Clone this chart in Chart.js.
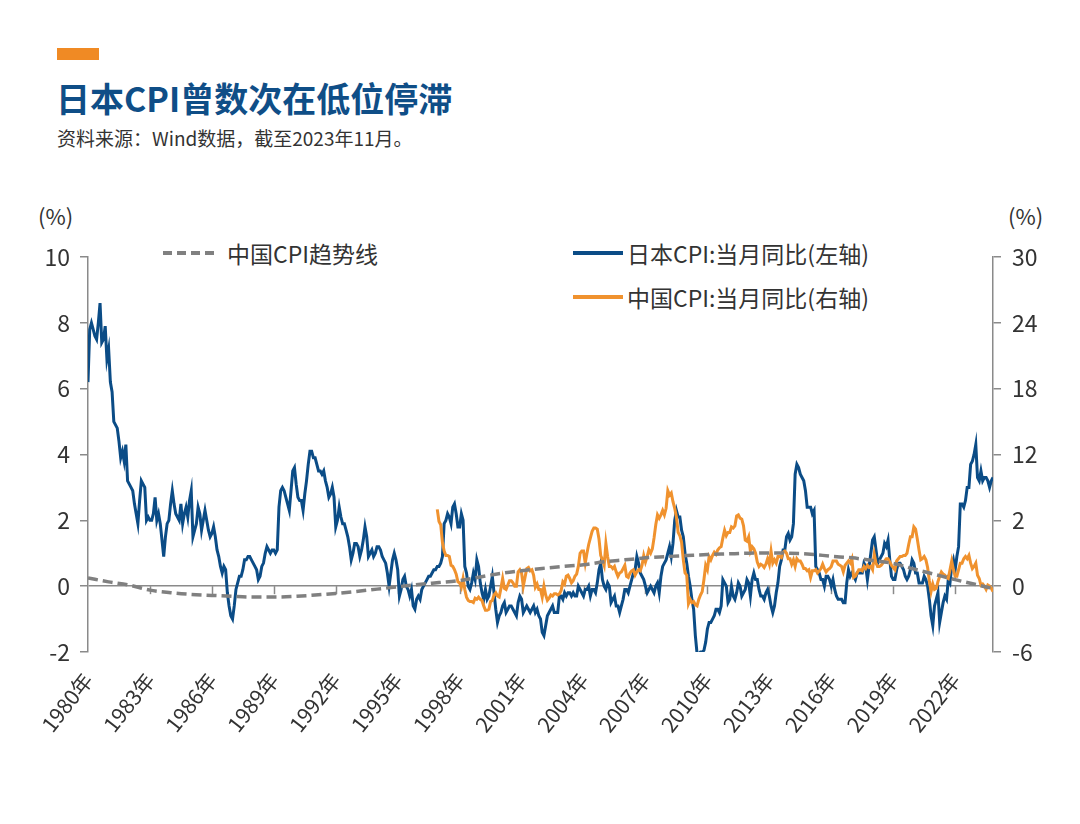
<!DOCTYPE html>
<html>
<head>
<meta charset="utf-8">
<script src="https://cdn.jsdelivr.net/npm/chart.js@4.4.1/dist/chart.umd.min.js"></script>
<style>
  html, body { margin:0; padding:0; background:#ffffff; }
  body { width:1080px; height:824px; position:relative; overflow:hidden; font-family:"Noto Sans CJK SC","Noto Sans",sans-serif; }
  #chart { position:absolute; left:0; top:0; }
  .abs { position:absolute; white-space:nowrap; }
  #bar { left:57px; top:48px; width:42px; height:12px; background:#F08A24; }
  #title { left:56px; top:79px; font-size:34px; line-height:38px; font-weight:700; color:#0F4E87; }
  #sub { left:57px; top:126px; font-size:19px; line-height:24px; color:#333333; }
  .unit { top:201px; font-size:22px; line-height:28px; color:#333333; }
  .leg { font-size:23px; line-height:30px; color:#333333; }
  .sw { position:absolute; height:4px; }
</style>
</head>
<body>
<div id="bar" class="abs"></div>
<div id="title" class="abs">日本CPI曾数次在低位停滞</div>
<div id="sub" class="abs">资料来源：Wind数据，截至2023年11月。</div>
<div class="abs unit" style="left:38px;">(%)</div>
<div class="abs unit" style="left:1008px;">(%)</div>

<svg class="abs" style="left:160px;top:248px;" width="60" height="10"><line x1="3" y1="5" x2="56" y2="5" stroke="#808080" stroke-width="4" stroke-dasharray="9,5"/></svg>
<div class="abs leg" style="left:227px;top:238px;">中国CPI趋势线</div>
<div class="sw" style="left:573px;top:251px;width:50px;background:#0B4C86;"></div>
<div class="abs leg" style="left:627px;top:238px;">日本CPI:当月同比(左轴)</div>
<div class="sw" style="left:573px;top:295px;width:50px;background:#F0922E;"></div>
<div class="abs leg" style="left:627px;top:282px;">中国CPI:当月同比(右轴)</div>

<canvas id="chart" width="1080" height="824"></canvas>
<script>
// ---- Data (monthly, Japan from 1980-01, China from 1996-12, to 2023-11) ----
const japanCPI = [
  6.2, 7.8, 8.0, 7.8, 7.6, 7.5, 8.0, 8.6, 7.4, 7.5, 7.9, 6.9,   // 1980
  7.2, 6.2, 5.9, 5.0, 4.9, 4.8, 4.4, 3.9, 4.1, 3.8, 4.3, 3.2,   // 1981
  3.1, 3.0, 2.9, 2.5, 2.2, 1.9, 2.6, 3.2, 3.1, 3.0, 2.0, 2.1,   // 1982
  2.0, 2.0, 2.2, 2.7, 2.0, 2.2, 1.9, 1.4, 0.9, 1.5, 1.9, 2.0,   // 1983
  2.5, 2.9, 2.5, 2.2, 2.1, 2.0, 2.5, 1.9, 2.2, 2.4, 2.1, 2.6,   // 1984
  2.9, 1.5, 1.7, 1.9, 2.4, 2.2, 1.7, 2.0, 2.3, 2.0, 1.7, 1.5,   // 1985
  1.6, 1.8, 1.5, 1.1, 0.9, 0.6, 0.4, 0.6, 0.5, -0.2, -0.6, -0.9, // 1986
  -1.0, -0.6, -0.1, 0.1, 0.3, 0.3, 0.5, 0.8, 0.8, 0.9, 0.9, 0.8, // 1987
  0.7, 0.6, 0.5, 0.2, 0.3, 0.6, 0.7, 1.0, 1.2, 1.1, 1.0, 1.1,   // 1988
  1.1, 1.0, 1.1, 2.4, 2.9, 3.0, 2.9, 2.7, 2.5, 2.3, 2.9, 3.5,   // 1989
  3.6, 3.1, 2.7, 2.6, 2.6, 2.3, 2.8, 3.2, 3.7, 4.1, 4.1, 3.9,   // 1990
  3.9, 3.7, 3.5, 3.5, 3.4, 3.5, 3.2, 3.0, 2.7, 2.8, 3.0, 2.7,   // 1991
  1.8, 2.0, 2.4, 2.1, 1.9, 1.9, 1.7, 1.5, 1.2, 0.8, 1.0, 1.3,   // 1992
  1.3, 1.2, 0.9, 1.1, 1.4, 1.8, 1.5, 0.9, 1.0, 1.1, 0.9, 1.0,   // 1993
  1.2, 1.2, 1.1, 0.9, 0.8, 0.7, 0.4, 0.0, 0.4, 0.8, 1.0, 0.8,   // 1994
  0.5, -0.3, -0.1, 0.2, 0.3, 0.0, -0.1, -0.3, -0.1, -0.6, -0.7, -0.4, // 1995
  -0.3, -0.4, -0.1, 0.0, 0.1, 0.2, 0.3, 0.3, 0.4, 0.5, 0.5, 0.6, // 1996
  0.6, 0.7, 0.9, 1.9, 2.0, 2.2, 2.1, 1.9, 2.4, 2.5, 2.2, 1.8,   // 1997
  1.8, 2.2, 2.0, 0.6, 0.4, 0.0, -0.1, 0.1, 0.4, 0.2, 0.8, 0.6,  // 1998
  0.1, -0.2, -0.4, -0.1, -0.4, -0.3, 0.0, 0.3, -0.2, -0.7, -1.1, -0.9, // 1999
  -0.8, -0.6, -0.5, -0.8, -0.7, -0.6, -0.6, -0.7, -0.8, -0.9, -0.5, -0.3, // 2000
  -0.4, -0.8, -0.7, -0.6, -0.7, -0.8, -0.7, -0.6, -0.8, -0.7, -0.9, -1.0, // 2001
  -1.4, -1.5, -1.2, -0.9, -0.8, -0.7, -0.6, -0.8, -0.8, -0.8, -0.3, -0.3, // 2002
  -0.4, -0.2, -0.3, -0.2, -0.2, -0.3, -0.2, -0.3, -0.3, 0.0, -0.1, -0.2, // 2003
  -0.3, -0.1, -0.1, 0.0, -0.3, -0.1, -0.1, -0.2, 0.1, 0.5, 0.7, 0.2, // 2004
  0.0, -0.1, 0.1, 0.0, -0.5, -0.4, -0.3, -0.6, -0.6, -0.8, -0.6, -0.4, // 2005
  -0.1, -0.1, -0.2, 0.0, 0.2, 0.4, 0.5, 0.9, 0.7, 0.4, 0.3, 0.2, // 2006
  0.0, -0.2, -0.1, 0.0, -0.1, -0.2, 0.0, 0.1, -0.2, 0.3, 0.6, 0.7, // 2007
  0.8, 1.0, 1.2, 0.9, 1.3, 2.0, 2.3, 2.1, 2.1, 1.7, 1.5, 1.0,   // 2008
  0.7, 0.3, 0.0, -0.4, -0.7, -1.5, -2.05, -2.05, -2.0, -2.0, -1.95, -1.7, // 2009
  -1.3, -1.1, -1.1, -1.0, -0.9, -0.7, -0.7, -0.8, -0.6, 0.2, 0.1, 0.0, // 2010
  -0.5, -0.4, 0.0, -0.3, -0.4, -0.2, 0.1, 0.0, -0.3, -0.2, -0.1, 0.2, // 2011
  0.1, -0.3, 0.2, 0.4, 0.2, 0.2, -0.1, -0.3, -0.3, -0.4, -0.2, -0.1, // 2012
  -0.3, -0.6, -0.8, -0.6, -0.2, 0.1, 0.6, 0.8, 1.1, 1.1, 1.5, 1.6, // 2013
  1.4, 1.5, 1.9, 3.4, 3.7, 3.6, 3.4, 3.3, 3.2, 2.9, 2.4, 2.4,   // 2014
  2.4, 2.2, 2.3, 0.6, 0.5, 0.4, 0.2, 0.2, 0.0, 0.3, 0.3, 0.2,   // 2015
  0.0, 0.2, -0.1, -0.3, -0.4, -0.4, -0.4, -0.5, -0.5, 0.1, 0.5, 0.3, // 2016
  0.4, 0.3, 0.2, 0.4, 0.4, 0.4, 0.4, 0.7, 0.6, 0.2, 0.6, 1.0,   // 2017
  1.4, 1.5, 1.1, 0.7, 0.8, 0.9, 1.0, 1.3, 1.2, 1.4, 0.8, 0.3,   // 2018
  0.2, 0.2, 0.5, 0.7, 0.7, 0.6, 0.5, 0.3, 0.2, 0.3, 0.5, 0.8,   // 2019
  0.7, 0.4, 0.4, 0.1, 0.1, 0.1, 0.3, 0.2, 0.0, -0.4, -0.9, -1.2, // 2020
  -0.6, -0.4, -0.2, -1.1, -0.8, -0.5, -0.3, -0.4, 0.2, 0.1, 0.6, 0.8, // 2021
  0.5, 0.9, 1.2, 2.5, 2.5, 2.4, 2.6, 3.0, 3.0, 3.7, 3.8, 4.0,   // 2022
  4.3, 3.3, 3.2, 3.5, 3.2, 3.3, 3.3, 3.2, 3.0, 3.2, 3.3         // 2023 (Jan-Nov)
];
const chinaStartMonth = 203; // 1996-12, months after 1980-01
const chinaCPI = [
  7.0,                                                        // 1996-12
  5.9, 5.6, 4.0, 3.2, 2.8, 2.8, 2.7, 1.9, 1.8, 1.5, 1.1, 0.4,   // 1997
  0.3, -0.1, 0.7, -0.3, -1.0, -1.3, -1.4, -1.4, -1.5, -1.1, -1.2, -1.0, // 1998
  -1.2, -1.3, -1.8, -2.2, -2.2, -2.1, -1.4, -1.3, -0.8, -0.6, -0.9, -1.0, // 1999
  -0.2, 0.7, -0.2, -0.3, 0.1, 0.5, 0.5, 0.3, 0.0, 0.0, 1.3, 1.5, // 2000
  1.2, 0.0, 0.8, 1.6, 1.7, 1.4, 1.5, 1.0, -0.1, 0.2, -0.3, -0.3, // 2001
  -1.0, 0.0, -0.8, -1.3, -1.1, -0.8, -0.9, -0.7, -0.7, -0.8, -0.7, -0.4, // 2002
  0.4, 0.2, 0.9, 1.0, 0.7, 0.3, 0.5, 0.9, 1.1, 1.8, 3.0, 3.2,   // 2003
  3.2, 2.1, 3.0, 3.8, 4.4, 5.0, 5.3, 5.3, 5.2, 4.3, 2.8, 2.4,   // 2004
  1.9, 3.9, 2.7, 1.8, 1.8, 1.6, 1.8, 1.3, 0.9, 1.2, 1.3, 1.6,   // 2005
  1.9, 0.9, 0.8, 1.2, 1.4, 1.5, 1.0, 1.3, 1.5, 1.4, 1.9, 2.8,   // 2006
  2.2, 2.7, 3.3, 3.0, 3.4, 4.4, 5.6, 6.5, 6.2, 6.5, 6.9, 6.5,   // 2007
  7.1, 8.7, 8.3, 8.5, 7.7, 7.1, 6.3, 4.9, 4.6, 4.0, 2.4, 1.2,   // 2008
  1.0, -1.6, -1.2, -1.5, -1.4, -1.7, -1.8, -1.2, -0.8, -0.5, 0.6, 1.9, // 2009
  1.5, 2.7, 2.4, 2.8, 3.1, 2.9, 3.3, 3.5, 3.6, 4.4, 5.1, 4.6,   // 2010
  4.9, 4.9, 5.4, 5.3, 5.5, 6.4, 6.5, 6.2, 6.1, 5.5, 4.2, 4.1,   // 2011
  4.5, 3.2, 3.6, 3.4, 3.0, 2.2, 1.8, 2.0, 1.9, 1.7, 2.0, 2.5,   // 2012
  2.0, 3.2, 2.1, 2.4, 2.1, 2.7, 2.7, 2.6, 3.1, 3.2, 3.0, 2.5,   // 2013
  2.5, 2.0, 2.4, 1.8, 2.5, 2.3, 2.3, 2.0, 1.6, 1.6, 1.4, 1.5,   // 2014
  0.8, 1.4, 1.4, 1.5, 1.2, 1.4, 1.6, 2.0, 1.6, 1.3, 1.5, 1.6,   // 2015
  1.8, 2.3, 2.3, 2.3, 2.0, 1.9, 1.8, 1.3, 1.9, 2.1, 2.3, 2.1,   // 2016
  2.5, 0.8, 0.9, 1.2, 1.5, 1.5, 1.4, 1.8, 1.6, 1.9, 1.7, 1.8,   // 2017
  1.5, 2.9, 2.1, 1.8, 1.8, 1.9, 2.1, 2.3, 2.5, 2.5, 2.2, 1.9,   // 2018
  1.7, 1.5, 2.3, 2.5, 2.7, 2.7, 2.8, 2.8, 3.0, 3.8, 4.5, 4.5,   // 2019
  5.4, 5.2, 4.3, 3.3, 2.4, 2.5, 2.7, 2.4, 1.7, 0.5, -0.5, 0.2,  // 2020
  -0.3, -0.2, 0.4, 0.9, 1.3, 1.1, 1.0, 0.8, 0.7, 1.5, 2.3, 1.5, // 2021
  0.9, 0.9, 1.5, 2.1, 2.1, 2.5, 2.7, 2.5, 2.8, 2.1, 1.6, 1.8,   // 2022
  2.1, 1.0, 0.7, 0.1, 0.2, 0.0, -0.3, 0.1, 0.0, -0.2, -0.5      // 2023 (Jan-Nov)
];
// China CPI trend line (read in left-axis units), at each January plus the last month
const trendMonths = [0,12,24,36,48,60,72,84,96,108,120,132,144,156,168,180,192,204,216,228,240,252,264,276,288,300,312,324,336,348,360,372,384,396,408,420,432,444,456,468,480,492,504,516,526];
const trendValues = [0.25,0.13,0.03,-0.12,-0.2,-0.25,-0.28,-0.31,-0.33,-0.33,-0.31,-0.27,-0.22,-0.16,-0.09,-0.02,0.05,0.11,0.17,0.28,0.39,0.47,0.54,0.6,0.65,0.74,0.8,0.86,0.9,0.93,0.96,0.98,1.0,1.01,1.0,0.97,0.91,0.86,0.78,0.69,0.52,0.36,0.2,0.05,-0.07];
const xTickLabels = ['1980年','1983年','1986年','1989年','1992年','1995年','1998年','2001年','2004年','2007年','2010年','2013年','2016年','2019年','2022年'];
const rightTickLabels = ['-6','0','2','12','18','24','30'];

const FONT = '"Noto Sans CJK SC","Noto Sans",sans-serif';
const AXIS_GREY = '#8a8a8a';
const TEXT = '#333333';

const zeroTicks = {
  id: 'zeroTicks',
  beforeDatasetsDraw(chart) {
    const { ctx, scales: { x, y } } = chart;
    const y0 = y.getPixelForValue(0);
    ctx.save();
    ctx.strokeStyle = AXIS_GREY;
    ctx.lineWidth = 1.5;
    x.ticks.forEach(t => {
      if (t.value === 0) return;
      const px = Math.round(x.getPixelForValue(t.value)) + 0.5;
      ctx.beginPath();
      ctx.moveTo(px, y0);
      ctx.lineTo(px, y0 + 8);
      ctx.stroke();
    });
    ctx.restore();
  }
};

new Chart(document.getElementById('chart'), {
  type: 'line',
  data: {
    datasets: [
      {
        label: '中国CPI趋势线',
        data: trendMonths.map((m, i) => ({ x: m, y: trendValues[i] })),
        yAxisID: 'y',
        borderColor: '#808080',
        borderWidth: 3.5,
        borderDash: [10, 5],
        pointRadius: 0,
        cubicInterpolationMode: 'monotone',
        order: 0
      },
      {
        label: '中国CPI:当月同比(右轴)',
        data: chinaCPI.map((v, i) => ({ x: chinaStartMonth + i, y: v })),
        yAxisID: 'y1',
        borderColor: '#F0922E',
        borderWidth: 3,
        pointRadius: 0,
        tension: 0,
        order: 1
      },
      {
        label: '日本CPI:当月同比(左轴)',
        data: japanCPI.map((v, i) => ({ x: i, y: v })),
        yAxisID: 'y',
        borderColor: '#0B4C86',
        borderWidth: 3,
        pointRadius: 0,
        tension: 0,
        order: 2
      }
    ]
  },
  options: {
    responsive: false,
    animation: false,
    devicePixelRatio: 1,
    layout: { padding: { top: 257, left: 0, right: 0, bottom: 0 } },
    plugins: { legend: { display: false }, tooltip: { enabled: false } },
    scales: {
      x: {
        type: 'linear',
        min: 0,
        max: 526,
        position: 'bottom',
        border: { display: false },
        grid: { display: false, drawTicks: false },
        ticks: {
          stepSize: 36,
          includeBounds: false,
          autoSkip: false,
          maxRotation: 52,
          minRotation: 52,
          padding: 16,
          color: TEXT,
          font: { family: FONT, size: 21 },
          callback: (v) => (v % 36 === 0 ? xTickLabels[v / 36] : '')
        },
        afterFit: (s) => { s.height = 172; }
      },
      y: {
        position: 'left',
        min: -2,
        max: 10,
        border: { display: true, color: AXIS_GREY, width: 1.5 },
        grid: {
          drawOnChartArea: true,
          drawTicks: true,
          tickLength: 8,
          lineWidth: 1.5,
          tickColor: AXIS_GREY,
          color: (c) => (c.tick && c.tick.value === 0 ? AXIS_GREY : 'rgba(0,0,0,0)')
        },
        ticks: { stepSize: 2, padding: 10, color: TEXT, font: { family: FONT, size: 23 } },
        afterFit: (s) => { s.width = 88; }
      },
      y1: {
        position: 'right',
        min: -6,
        max: 30,
        border: { display: true, color: AXIS_GREY, width: 1.5 },
        grid: { drawOnChartArea: false, drawTicks: true, tickLength: 8, lineWidth: 1.5, tickColor: AXIS_GREY, color: AXIS_GREY },
        ticks: {
          stepSize: 6,
          padding: 11,
          color: TEXT,
          font: { family: FONT, size: 23 },
          callback: (v) => rightTickLabels[Math.round((v + 6) / 6)]
        },
        afterFit: (s) => { s.width = 87; }
      }
    }
  },
  plugins: [zeroTicks]
});
</script>
</body>
</html>
